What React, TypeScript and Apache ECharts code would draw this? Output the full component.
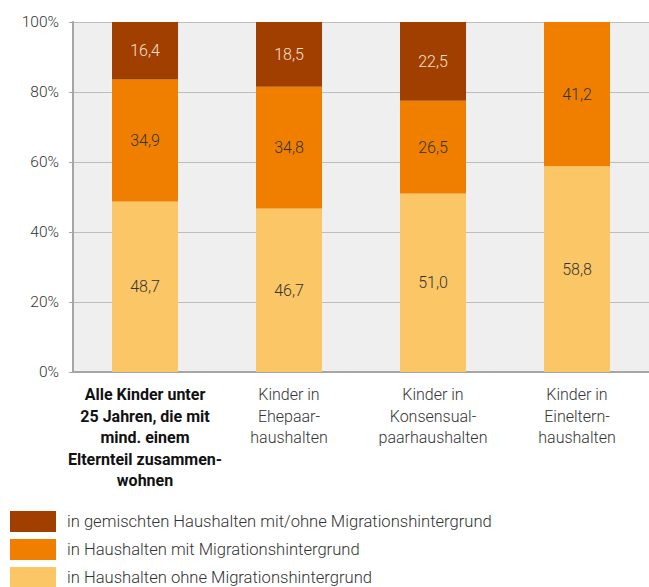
import React, { useEffect, useRef } from "react";
import * as echarts from "echarts";

const categories = [
  "Alle Kinder unter\n25 Jahren, die mit\nmind. einem\nElternteil zusammen-\nwohnen",
  "Kinder in\nEhepaar-\nhaushalten",
  "Kinder in\nKonsensual-\npaarhaushalten",
  "Kinder in\nEineltern-\nhaushalten",
];
const ohneMig = [48.7, 46.7, 51.0, 58.8];
const mitMig = [34.9, 34.8, 26.5, 41.2];
const gemischt = [16.4, 18.5, 22.5, 0];
const seriesNames = [
  "in gemischten Haushalten mit/ohne Migrationshintergrund",
  "in Haushalten mit Migrationshintergrund",
  "in Haushalten ohne Migrationshintergrund",
];
const yTicks = [0, 20, 40, 60, 80, 100];

const fmt = (v: number) => (v ? v.toFixed(1).replace(".", ",") : "");

export default function App() {
  const ref = useRef<HTMLDivElement>(null);
  useEffect(() => {
    const chart = echarts.init(ref.current!, null, { renderer: "svg" });
    const font = "Roboto, 'Noto Sans', sans-serif";
    const labelOpt = (color: string) => ({
      show: true,
      position: "inside" as const,
      color,
      fontSize: 16,
      fontWeight: 300,
      fontFamily: font,
      formatter: (p: any) => fmt(p.value),
    });
    const legendTops = [511, 539, 567];
    chart.setOption({
      animation: false,
      textStyle: { fontFamily: font },
      grid: {
        left: 73,
        right: -4,
        top: 22,
        bottom: 215,
        show: true,
        backgroundColor: "#efefef",
        borderWidth: 0,
      },
      legend: seriesNames.map((n, i) => ({
        orient: "vertical",
        left: 10,
        top: legendTops[i],
        padding: 0,
        itemWidth: 46,
        itemHeight: 21,
        icon: "rect",
        data: [n],
        textStyle: {
          fontSize: 16.6,
          fontWeight: 300,
          color: "#333",
          fontFamily: font,
          padding: [0, 0, 0, 6],
        },
        selectedMode: false,
      })),
      xAxis: {
        type: "category",
        data: categories.map((c, i) =>
          i === 0
            ? { value: c, textStyle: { fontWeight: "bold", color: "#111" } }
            : { value: c }
        ),
        axisLine: { show: true, lineStyle: { color: "#a6a6a6", width: 2 } },
        axisTick: { show: false },
        axisLabel: {
          interval: 0,
          fontSize: 16,
          fontWeight: 300,
          lineHeight: 21.5,
          color: "#333",
          margin: 12,
          fontFamily: font,
        },
      },
      yAxis: {
        type: "value",
        min: 0,
        max: 100,
        interval: 20,
        axisLine: { show: true, lineStyle: { color: "#a6a6a6", width: 2 } },
        axisTick: { show: true, length: 4, lineStyle: { color: "#a6a6a6" } },
        splitLine: { show: true, lineStyle: { color: "#bdbdbd", width: 1 } },
        axisLabel: {
          fontSize: 15.5,
          fontWeight: 300,
          color: "#333",
          margin: 14,
          fontFamily: font,
          formatter: (v: number) => (yTicks.includes(v) ? v + "%" : ""),
        },
      },
      series: [
        {
          name: seriesNames[2],
          type: "bar",
          stack: "a",
          barWidth: 66,
          data: ohneMig,
          itemStyle: { color: "#fbc766" },
          label: labelOpt("#333"),
        },
        {
          name: seriesNames[1],
          type: "bar",
          stack: "a",
          barWidth: 66,
          data: mitMig,
          itemStyle: { color: "#f07f00" },
          label: labelOpt("#333"),
        },
        {
          name: seriesNames[0],
          type: "bar",
          stack: "a",
          barWidth: 66,
          data: gemischt,
          itemStyle: { color: "#a03f00" },
          label: labelOpt("#f5e0d0"),
        },
      ],
    });
    return () => chart.dispose();
  }, []);
  return (
    <div
      ref={ref}
      style={{ position: "absolute", left: 0, top: 0, width: 649, height: 587, background: "#fff" }}
    />
  );
}
